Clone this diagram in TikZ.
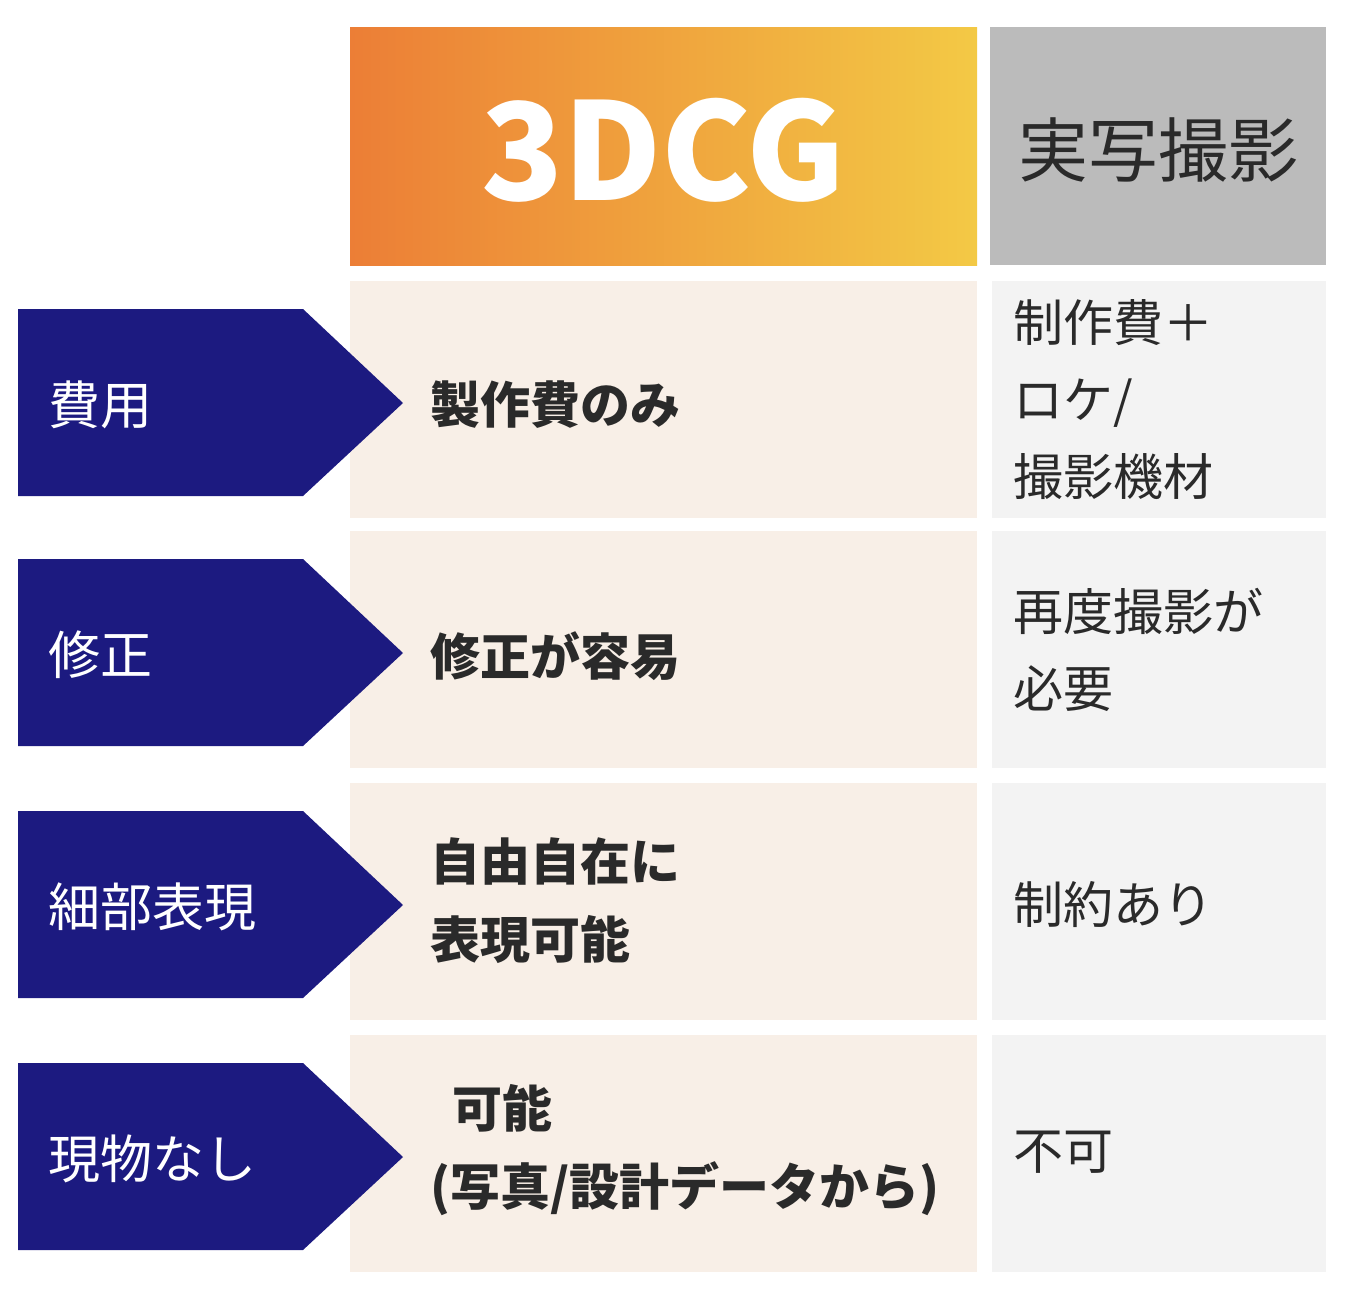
\documentclass[tikz,border=0pt]{standalone}
\usepackage{fontspec}
\setmainfont{Noto Sans CJK JP}
\definecolor{navy}{HTML}{1C1A80}
\definecolor{orgL}{HTML}{EC7E36}
\definecolor{orgR}{HTML}{F3C945}
\definecolor{hdgray}{HTML}{BBBBBB}
\definecolor{beige}{HTML}{F8EFE7}
\definecolor{lgray}{HTML}{F3F3F3}
\definecolor{txt}{HTML}{2A2A2A}
\begin{document}
\begin{tikzpicture}[x=1pt,y=-1pt,
  lab/.style={anchor=west,text=white,font=\fontsize{52}{60}\selectfont,inner sep=0pt},
  mid/.style={anchor=west,text=txt,align=left,font=\bfseries\fontsize{50}{78}\selectfont,inner sep=0pt},
  rt/.style={anchor=west,text=txt,align=left,font=\fontsize{50}{77}\selectfont,inner sep=0pt}]
\useasboundingbox (0,0) rectangle (1350,1294);
\fill[left color=orgL,right color=orgR] (350,27) rectangle (977,265);
\fill[hdgray] (990,27) rectangle (1326,265);
\node[text=white,font=\bfseries\fontsize{135}{140}\selectfont] (h1) at (663,150) {3DCG};
\node[text=txt,font=\fontsize{70}{80}\selectfont] (h2) at (1158,150) {実写撮影};
\foreach \t/\l [count=\i] in {281/費用,531/修正,783/細部表現,1035/現物なし}{
  \fill[beige] (350,\t) rectangle (977,\t+237);
  \fill[lgray] (992,\t) rectangle (1326,\t+237);
  \fill[navy] (18,\t+28) -- (303,\t+28) -- (403,\t+122) -- (303,\t+215) -- (18,\t+215) -- cycle;
  \node[lab] (l\i) at (48,\t+124) {\l};
}
\node[mid] (m1) at (430,405) {製作費のみ};
\node[mid] (m2) at (430,656) {修正が容易};
\node[mid] (m3) at (430,901) {自由自在に\\表現可能};
\node[mid] (m4) at (430,1150) {\hspace{22pt}可能\\(写真/設計データから)};
\node[rt] (r1) at (1013,400) {制作費＋\\ロケ/\\撮影機材};
\node[rt] (r2) at (1013,650) {再度撮影が\\必要};
\node[rt] (r3) at (1013,905) {制約あり};
\node[rt] (r4) at (1013,1152) {不可};
\end{tikzpicture}
\end{document}
